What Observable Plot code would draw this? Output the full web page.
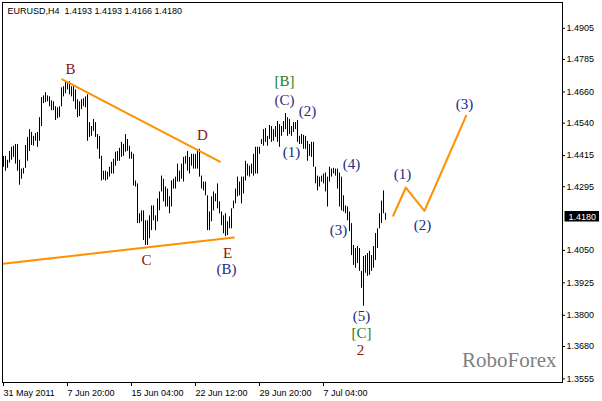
<!DOCTYPE html>
<html>
<head>
<meta charset="utf-8">
<script src="https://cdn.jsdelivr.net/npm/d3@7"></script>
<script src="https://cdn.jsdelivr.net/npm/@observablehq/plot@0.6"></script>
<style>
html, body { margin: 0; padding: 0; background: #fff; }
#chart { width: 602px; height: 401px; overflow: hidden; }
</style>
</head>
<body>
<div id="chart"></div>
<script>
// ---- data ----
const symbolTitle = "EURUSD,H4\u00a0 1.4193 1.4193 1.4166 1.4180";

// H4 bar highs / lows, bar index 0 = 31 May 2011
const highs = [
  1.4412, 1.4412, 1.4397, 1.4431, 1.4447, 1.4451, 1.4458, 1.4458, 1.4397, 1.4363, 1.4366, 1.4454, 1.4485, 1.4515, 1.4504, 1.4489,
  1.4500, 1.4504, 1.4561, 1.4638, 1.4645, 1.4657, 1.4645, 1.4641, 1.4626, 1.4622, 1.4603, 1.4599, 1.4603, 1.4676, 1.4680, 1.4699,
  1.4695, 1.4699, 1.4680, 1.4687, 1.4668, 1.4630, 1.4622, 1.4630, 1.4634, 1.4641, 1.4649, 1.4542, 1.4527, 1.4554, 1.4542, 1.4496,
  1.4489, 1.4412, 1.4355, 1.4355, 1.4351, 1.4370, 1.4389, 1.4401, 1.4428, 1.4431, 1.4443, 1.4466, 1.4458, 1.4496, 1.4477, 1.4451,
  1.4428, 1.4420, 1.4317, 1.4306, 1.4191, 1.4202, 1.4202, 1.4164, 1.4164, 1.4183, 1.4221, 1.4221, 1.4183, 1.4248, 1.4275, 1.4336,
  1.4324, 1.4294, 1.4286, 1.4256, 1.4317, 1.4324, 1.4332, 1.4382, 1.4355, 1.4382, 1.4408, 1.4412, 1.4431, 1.4408, 1.4420, 1.4420,
  1.4420, 1.4439, 1.4439, 1.4336, 1.4313, 1.4313, 1.4260, 1.4198, 1.4256, 1.4275, 1.4267, 1.4306, 1.4237, 1.4198, 1.4183, 1.4191,
  1.4160, 1.4179, 1.4210, 1.4240, 1.4286, 1.4332, 1.4313, 1.4332, 1.4332, 1.4393, 1.4382, 1.4374, 1.4382, 1.4420, 1.4447, 1.4447,
  1.4447, 1.4477, 1.4515, 1.4519, 1.4489, 1.4531, 1.4527, 1.4515, 1.4527, 1.4546, 1.4534, 1.4527, 1.4546, 1.4577, 1.4561, 1.4554,
  1.4527, 1.4542, 1.4542, 1.4550, 1.4489, 1.4496, 1.4493, 1.4489, 1.4470, 1.4458, 1.4466, 1.4466, 1.4370, 1.4336, 1.4332,
  1.4336, 1.4344, 1.4348, 1.4332, 1.4370, 1.4363, 1.4366, 1.4363, 1.4363, 1.4348, 1.4332, 1.4260, 1.4221, 1.4217, 1.4198, 1.4153,
  1.4069, 1.4057, 1.4065, 1.4057, 1.3969, 1.4026, 1.4030, 1.4038, 1.4046, 1.4030, 1.4065, 1.4115, 1.4133, 1.4191, 1.4240, 1.4279, 1.4193
];
const lows = [
  1.4370, 1.4355, 1.4366, 1.4386, 1.4397, 1.4408, 1.4382, 1.4355, 1.4301, 1.4324, 1.4344, 1.4366, 1.4393, 1.4431, 1.4454, 1.4451,
  1.4470, 1.4447, 1.4470, 1.4527, 1.4615, 1.4619, 1.4622, 1.4603, 1.4588, 1.4588, 1.4550, 1.4557, 1.4561, 1.4603, 1.4641, 1.4653,
  1.4668, 1.4649, 1.4641, 1.4622, 1.4592, 1.4561, 1.4565, 1.4592, 1.4603, 1.4599, 1.4470, 1.4485, 1.4489, 1.4508, 1.4485, 1.4439,
  1.4401, 1.4317, 1.4321, 1.4317, 1.4321, 1.4332, 1.4344, 1.4344, 1.4374, 1.4393, 1.4393, 1.4408, 1.4412, 1.4428, 1.4431, 1.4401,
  1.4401, 1.4298, 1.4294, 1.4153, 1.4153, 1.4160, 1.4088, 1.4069, 1.4069, 1.4095, 1.4126, 1.4164, 1.4126, 1.4160, 1.4202, 1.4275,
  1.4237, 1.4217, 1.4217, 1.4191, 1.4217, 1.4286, 1.4286, 1.4313, 1.4313, 1.4324, 1.4313, 1.4382, 1.4355, 1.4344, 1.4374, 1.4363,
  1.4363, 1.4363, 1.4332, 1.4286, 1.4279, 1.4260, 1.4126, 1.4126, 1.4160, 1.4202, 1.4237, 1.4210, 1.4191, 1.4145, 1.4114, 1.4103,
  1.4107, 1.4133, 1.4133, 1.4210, 1.4229, 1.4256, 1.4260, 1.4229, 1.4267, 1.4317, 1.4336, 1.4332, 1.4344, 1.4336, 1.4344, 1.4344,
  1.4420, 1.4458, 1.4451, 1.4466, 1.4451, 1.4477, 1.4466, 1.4470, 1.4485, 1.4466, 1.4447, 1.4489, 1.4504, 1.4515, 1.4489, 1.4496,
  1.4489, 1.4504, 1.4515, 1.4466, 1.4458, 1.4458, 1.4439, 1.4439, 1.4393, 1.4412, 1.4408, 1.4370, 1.4306, 1.4279, 1.4294,
  1.4313, 1.4306, 1.4275, 1.4217, 1.4313, 1.4332, 1.4344, 1.4336, 1.4286, 1.4217, 1.4202, 1.4198, 1.4191, 1.4164, 1.4122, 1.4030,
  1.3992, 1.3981, 1.3999, 1.3969, 1.3904, 1.3835, 1.3962, 1.3950, 1.3954, 1.3969, 1.3981, 1.4011, 1.4057, 1.4133, 1.4153, 1.4191, 1.4166
];

const dateTickIndex = [0, 32, 64, 96, 128, 160];
const dateTickLabels = ["31 May 2011", "7 Jun 20:00", "15 Jun 04:00", "22 Jun 12:00", "29 Jun 20:00", "7 Jul 04:00"];
const priceTicks = [1.4905, 1.4785, 1.4660, 1.4540, 1.4415, 1.4295, 1.4050, 1.3925, 1.3800, 1.3680, 1.3555];
const lastPrice = 1.4180;

// trend lines (bar index, price)
const lineBD = [{i: 29.35, p: 1.47088}, {i: 108.15, p: 1.43914}];
const lineCE = [{i: -0.15, p: 1.39987}, {i: 115.15, p: 1.40993}];
const forecast = [{i: 194.85, p: 1.41834}, {i: 201.15, p: 1.42920}, {i: 210.5, p: 1.42025}, {i: 231.35, p: 1.45685}];

// wave labels
const labelText  = ["B", "D", "C", "E", "(B)", "[B]", "(C)", "(2)", "(1)", "(4)", "(3)", "(5)", "[C]", "2", "(1)", "(2)", "(3)"];
const labelIndex = [33.5, 99.5, 71.5, 112, 111.5, 140.5, 140.5, 152, 144, 174, 167.5, 179, 179, 178.5, 199.5, 209.5, 230.5];
const labelPrice = [1.47482, 1.4492, 1.4014, 1.40408, 1.39757, 1.47023, 1.46297, 1.45876, 1.4427, 1.43811, 1.41287, 1.3796, 1.3731, 1.3666, 1.43429, 1.41478, 1.46144];
const labelKind  = ["r", "r", "r", "r", "n", "g", "p", "n", "n", "n", "n", "n", "g", "r", "n", "n", "n"];

// ---- build ----
const kindColor = {r: "#8b1010", n: "#222a80", p: "#3a2d7c", g: "#2a7a1c"};
const bars = highs.map((h, i) => ({i, high: h, low: lows[i]}));
const waveLabels = labelText.map((t, k) => ({t, i: labelIndex[k], p: labelPrice[k], color: kindColor[labelKind[k]]}));
const orange = "#ff9000";

const chart = Plot.plot({
  width: 602,
  height: 401,
  marginLeft: 2,
  marginRight: 40,
  marginTop: 2,
  marginBottom: 19,
  style: {fontFamily: "'Liberation Sans', Arial, sans-serif", fontSize: "9px", background: "white", color: "black"},
  x: {type: "linear", domain: [-0.5, 279.5], label: null},
  y: {domain: [1.354128, 1.500443], label: null},
  color: {type: "identity"},
  marks: [
    Plot.ruleX(bars, {x: "i", y1: "low", y2: "high", stroke: "black", strokeWidth: 1}),
    Plot.line(lineBD, {x: "i", y: "p", stroke: orange, strokeWidth: 2}),
    Plot.line(lineCE, {x: "i", y: "p", stroke: orange, strokeWidth: 2}),
    Plot.line(forecast, {x: "i", y: "p", stroke: orange, strokeWidth: 2}),
    Plot.frame({stroke: "black"}),
    Plot.axisY(priceTicks, {anchor: "right", tickSize: 2, tickPadding: 2, tickFormat: d => d.toFixed(4), fontSize: 9, label: null}),
    Plot.axisX(dateTickIndex, {anchor: "bottom", tickSize: 4, tickPadding: 3, textAnchor: "start",
      tickFormat: d => dateTickLabels[dateTickIndex.indexOf(d)], fontSize: 9, label: null}),
    Plot.text([symbolTitle], {frameAnchor: "top-left", dx: 5, dy: 5, lineAnchor: "top", textAnchor: "start", fontSize: 9, fill: "black"}),
    Plot.text(waveLabels, {x: "i", y: "p", text: "t", fill: "color", fontFamily: "'Liberation Serif', 'Times New Roman', serif", fontSize: 15}),
    Plot.text(["RoboForex"], {frameAnchor: "bottom-right", dx: -6, dy: -16, textAnchor: "end",
      fontFamily: "'Liberation Serif', 'Times New Roman', serif", fontSize: 21, fill: "#7f7f7f"}),
    Plot.text([lastPrice], {y: d => d, text: d => d.toFixed(4), frameAnchor: "right", dx: 6, textAnchor: "start",
      fill: "white", fontSize: 9})
  ]
});

document.getElementById("chart").append(chart);

// black box behind the current-price label
const lastLabel = lastPrice.toFixed(4);
const lastText = Array.from(chart.querySelectorAll("text")).find(t => t.textContent === lastLabel);
if (lastText) {
  const svgBox = chart.getBoundingClientRect();
  const tb = lastText.getBoundingClientRect();
  const cy = tb.top + tb.height / 2 - svgBox.top;
  const rect = document.createElementNS("http://www.w3.org/2000/svg", "rect");
  rect.setAttribute("x", tb.left - svgBox.left - 4);
  rect.setAttribute("y", Math.round(cy - 5.5));
  rect.setAttribute("width", tb.width + 7);
  rect.setAttribute("height", 10.5);
  rect.setAttribute("fill", "black");
  const holder = lastText.parentNode;
  holder.parentNode.insertBefore(rect, holder);
}
</script>
</body>
</html>
